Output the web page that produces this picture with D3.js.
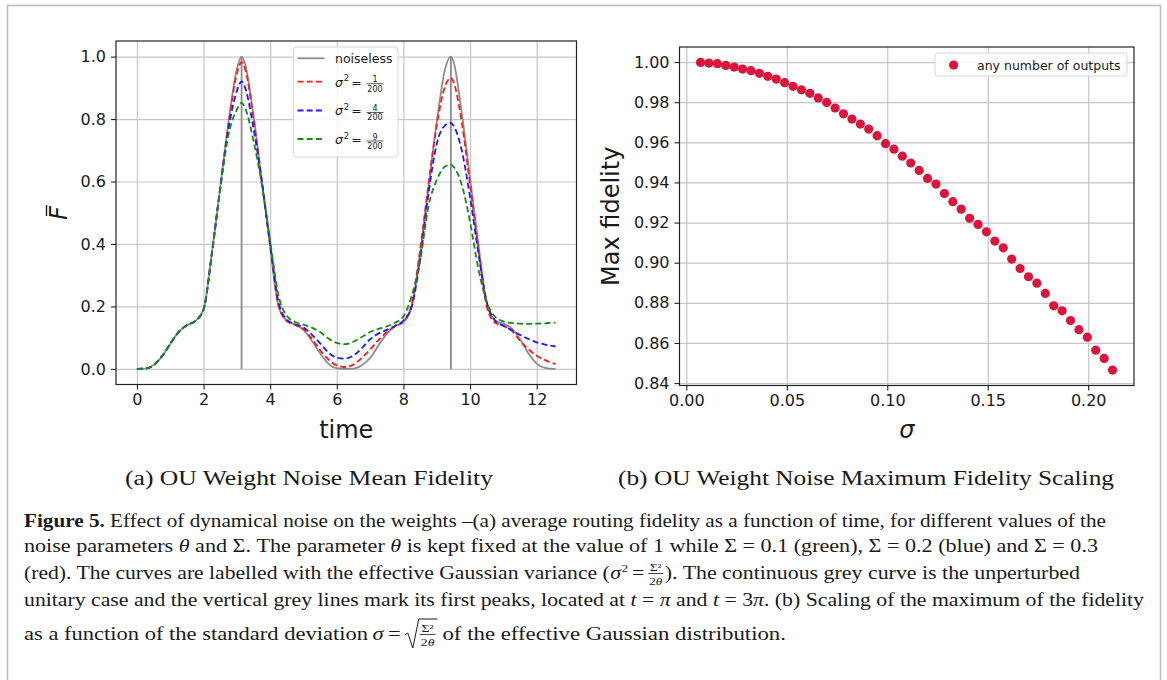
<!DOCTYPE html>
<html><head><meta charset="utf-8">
<script src="https://cdn.jsdelivr.net/npm/d3@7/dist/d3.min.js"></script>
<style>body{margin:0;background:#fff} svg{display:block}</style>
</head><body><svg id="c" width="1167" height="680"></svg>
<script>
// ---------- DATA ----------
const time = [0,0.25,0.5,0.75,1,1.25,1.5,1.75,2,2.25,2.5,2.75,3,3.1416,
  3.25,3.5,3.75,4,4.25,4.5,4.75,5,5.25,5.5,5.75,6,6.25,6.5,6.75,7,7.25,7.5,7.75,8,8.25,8.5,8.75,9,9.25,9.4248,
  9.5,9.75,10,10.25,10.5,10.75,11,11.25,11.5,11.75,12,12.25,12.5,12.5664];
const noiseless = [0,0.001,0.012,0.04,0.08,0.118,0.14,0.153,0.19,0.37,0.58,0.79,0.96,1.0,
  0.975,0.81,0.6,0.39,0.2,0.155,0.142,0.125,0.09,0.05,0.017,0.002,0,0.001,0.012,0.035,0.075,0.112,0.137,0.15,0.2,0.37,0.58,0.79,0.96,1.0,
  0.985,0.82,0.61,0.4,0.21,0.155,0.145,0.13,0.095,0.05,0.017,0.003,0,0];
const var1 = [0,0.001,0.012,0.04,0.08,0.118,0.14,0.153,0.19,0.37,0.58,0.785,0.945,0.982,
  0.96,0.80,0.6,0.395,0.205,0.153,0.141,0.127,0.097,0.06,0.03,0.011,0.006,0.014,0.035,0.062,0.092,0.118,0.136,0.152,0.21,0.38,0.59,0.78,0.905,0.932,
  0.92,0.79,0.59,0.385,0.2,0.148,0.138,0.123,0.09,0.063,0.042,0.028,0.018,0.016];
const var4 = [0,0.001,0.012,0.04,0.08,0.118,0.14,0.153,0.19,0.37,0.58,0.77,0.89,0.921,
  0.9,0.77,0.6,0.40,0.215,0.158,0.143,0.133,0.11,0.082,0.052,0.036,0.033,0.043,0.066,0.095,0.113,0.125,0.138,0.155,0.2,0.35,0.56,0.72,0.78,0.788,
  0.78,0.7,0.55,0.37,0.215,0.155,0.138,0.124,0.109,0.096,0.085,0.078,0.073,0.072];
const var9 = [0,0.001,0.012,0.04,0.08,0.118,0.14,0.153,0.19,0.37,0.575,0.75,0.83,0.852,
  0.835,0.73,0.59,0.41,0.235,0.17,0.15,0.142,0.132,0.118,0.097,0.083,0.079,0.087,0.102,0.118,0.128,0.136,0.148,0.168,0.235,0.345,0.52,0.605,0.648,0.654,
  0.648,0.59,0.47,0.32,0.215,0.167,0.152,0.147,0.145,0.144,0.145,0.146,0.148,0.148];
const peakTimes = [3.1416, 9.4248];
const timeTicks = [0,2,4,6,8,10,12];
const fTicks = [0,0.2,0.4,0.6,0.8,1.0];

const sigma = [0.00707,0.01126,0.01544,0.01963,0.02381,0.02800,0.03218,0.03637,0.04055,0.04474,
  0.04892,0.05311,0.05729,0.06148,0.06566,0.06985,0.07403,0.07822,0.08240,0.08659,
  0.09077,0.09496,0.09914,0.10333,0.10751,0.11170,0.11588,0.12007,0.12425,0.12844,
  0.13262,0.13681,0.14099,0.14518,0.14936,0.15355,0.15773,0.16192,0.16610,0.17029,
  0.17447,0.17866,0.18284,0.18703,0.19121,0.19540,0.19958,0.20377,0.20795,0.21213];
const maxFidelity = [0.9998,0.9995,0.9992,0.9983,0.9975,0.9965,0.9957,0.9944,0.9929,0.9915,
  0.9897,0.9879,0.9862,0.9844,0.9821,0.9799,0.9771,0.9742,0.9716,0.9691,
  0.9666,0.9633,0.9593,0.9566,0.9531,0.9497,0.9460,0.9420,0.9392,0.9345,
  0.9304,0.9267,0.9221,0.9191,0.9154,0.9108,0.9074,0.9018,0.8971,0.8930,
  0.8898,0.8847,0.8785,0.8760,0.8712,0.8666,0.8629,0.8564,0.8523,0.8465];
const sigmaTicks = [0,0.05,0.10,0.15,0.20];
const maxTicks = [0.84,0.86,0.88,0.90,0.92,0.94,0.96,0.98,1.00];

const seriesNames = ["noiseless","var1","var4","var9"];
const legendNums = [null,"1","4","9"];

// ---------- DRAW ----------
const svg = d3.select("#c");
const FONT = "DejaVu Sans";
const TXT = "#1a1a1a";

svg.append("rect").attr("x",7.5).attr("y",5.5).attr("width",1153).attr("height",720)
  .attr("fill","none").attr("stroke","#bdbdbd").attr("stroke-width",1.6);

// ===== Left panel =====
const L = {x0:116, x1:576.5, y0:41, y1:384.5};
const xL = d3.scaleLinear().domain([-0.628, 13.195]).range([L.x0, L.x1]);
const yL = d3.scaleLinear().domain([-0.05, 1.05]).range([L.y1, L.y0]);
const gL = svg.append("g");

gL.append("g").attr("transform",`translate(0,${L.y1})`)
  .call(d3.axisBottom(xL).tickValues(timeTicks).tickSize(-(L.y1-L.y0)).tickFormat(""))
  .call(g=>g.select(".domain").remove())
  .selectAll("line").attr("stroke","#c6c6c6").attr("stroke-width",1.2);
gL.append("g").attr("transform",`translate(${L.x0},0)`)
  .call(d3.axisLeft(yL).tickValues(fTicks).tickSize(-(L.x1-L.x0)).tickFormat(""))
  .call(g=>g.select(".domain").remove())
  .selectAll("line").attr("stroke","#c6c6c6").attr("stroke-width",1.2);

const axBL = gL.append("g").attr("transform",`translate(0,${L.y1})`)
  .call(d3.axisBottom(xL).tickValues(timeTicks).tickFormat(d3.format("d")).tickSize(5).tickPadding(4));
const axLL = gL.append("g").attr("transform",`translate(${L.x0},0)`)
  .call(d3.axisLeft(yL).tickValues(fTicks).tickFormat(d3.format(".1f")).tickSize(5).tickPadding(5));
[axBL, axLL].forEach(a=>{
  a.select(".domain").remove();
  a.selectAll("line").attr("stroke","#222").attr("stroke-width",1.1);
  a.selectAll("text").attr("font-family",FONT).attr("font-size",16).attr("fill",TXT);
});

const line = d3.line().x((d,i)=>xL(time[i])).y(d=>yL(d)).curve(d3.curveMonotoneX);
const styles = {
  noiseless:{data:noiseless,color:"#8c8c8c",dash:null},
  var1:{data:var1,color:"#ff1a1a",dash:"6,3.2"},
  var4:{data:var4,color:"#1a1aff",dash:"6,3.2"},
  var9:{data:var9,color:"#148c14",dash:"6,3.2"}
};
seriesNames.forEach(n=>{
  const s = styles[n];
  gL.append("path").attr("d",line(s.data)).attr("fill","none")
    .attr("stroke",s.color).attr("stroke-width",1.8)
    .attr("stroke-dasharray",s.dash);
  if(n==="noiseless"){
    gL.selectAll(".vl").data(peakTimes).join("line").attr("class","vl")
      .attr("x1",d=>xL(d)).attr("x2",d=>xL(d)).attr("y1",yL(0)).attr("y2",yL(1))
      .attr("stroke","#8c8c8c").attr("stroke-width",1.8);
  }
});

gL.append("rect").attr("x",L.x0).attr("y",L.y0).attr("width",L.x1-L.x0).attr("height",L.y1-L.y0)
  .attr("fill","none").attr("stroke","#222").attr("stroke-width",1.2);

// legend left
const lg = gL.append("g");
lg.append("rect").attr("x",293.5).attr("y",47).attr("width",104.5).attr("height",110).attr("rx",3)
  .attr("fill","#fff").attr("fill-opacity",0.85).attr("stroke","#d6d6d6").attr("stroke-width",1);
const rowY = [58.3, 81.7, 110.5, 139];
seriesNames.forEach((n,i)=>{
  const s = styles[n], c = rowY[i];
  lg.append("line").attr("x1",297.5).attr("x2",324.5).attr("y1",c).attr("y2",c)
    .attr("stroke",s.color).attr("stroke-width",1.8).attr("stroke-dasharray",s.dash);
  if(i===0){
    lg.append("text").attr("x",335).attr("y",c+4.5).attr("font-family",FONT).attr("font-size",12.5)
      .attr("fill",TXT).text("noiseless");
  } else {
    lg.append("text").attr("x",335).attr("y",c+4.8).attr("font-family",FONT).attr("font-size",12.5)
      .attr("font-style","italic").attr("fill",TXT).text("σ");
    lg.append("text").attr("x",343.8).attr("y",c-0.5).attr("font-family",FONT).attr("font-size",8.5)
      .attr("fill",TXT).text("2");
    lg.append("text").attr("x",356.5).attr("y",c+4.8).attr("font-family",FONT).attr("font-size",12.5)
      .attr("text-anchor","middle").attr("fill",TXT).text("=");
    lg.append("text").attr("x",375).attr("y",c+0.6).attr("font-family",FONT).attr("font-size",8)
      .attr("text-anchor","middle").attr("fill",TXT).text(legendNums[i]);
    lg.append("line").attr("x1",366.5).attr("x2",383.5).attr("y1",c+2).attr("y2",c+2)
      .attr("stroke",TXT).attr("stroke-width",0.7);
    lg.append("text").attr("x",375).attr("y",c+9.8).attr("font-family",FONT).attr("font-size",8)
      .attr("text-anchor","middle").attr("fill",TXT).text("200");
  }
});

// axis labels left
gL.append("text").attr("x",(L.x0+L.x1)/2).attr("y",438).attr("text-anchor","middle")
  .attr("font-family",FONT).attr("font-size",24).attr("fill",TXT).text("time");
const fl = gL.append("g").attr("transform","translate(67,213) rotate(-90)");
fl.append("text").attr("x",0).attr("y",0).attr("text-anchor","middle").attr("font-family",FONT)
  .attr("font-style","italic").attr("font-size",24).attr("fill",TXT).text("F");
fl.append("line").attr("x1",-3).attr("x2",8).attr("y1",-20.5).attr("y2",-20.5)
  .attr("stroke",TXT).attr("stroke-width",1.4);

// ===== Right panel =====
const R = {x0:679.5, x1:1134, y0:47, y1:385.5};
const xR = d3.scaleLinear().domain([-0.0034, 0.2228]).range([R.x0, R.x1]);
const yR = d3.scaleLinear().domain([0.8388, 1.0075]).range([R.y1, R.y0]);
const gR = svg.append("g");
gR.append("g").attr("transform",`translate(0,${R.y1})`)
  .call(d3.axisBottom(xR).tickValues(sigmaTicks).tickSize(-(R.y1-R.y0)).tickFormat(""))
  .call(g=>g.select(".domain").remove())
  .selectAll("line").attr("stroke","#c6c6c6").attr("stroke-width",1.2);
gR.append("g").attr("transform",`translate(${R.x0},0)`)
  .call(d3.axisLeft(yR).tickValues(maxTicks).tickSize(-(R.x1-R.x0)).tickFormat(""))
  .call(g=>g.select(".domain").remove())
  .selectAll("line").attr("stroke","#c6c6c6").attr("stroke-width",1.2);
const axBR = gR.append("g").attr("transform",`translate(0,${R.y1})`)
  .call(d3.axisBottom(xR).tickValues(sigmaTicks).tickFormat(d3.format(".2f")).tickSize(5).tickPadding(4));
const axLR = gR.append("g").attr("transform",`translate(${R.x0},0)`)
  .call(d3.axisLeft(yR).tickValues(maxTicks).tickFormat(d3.format(".2f")).tickSize(5).tickPadding(5));
[axBR, axLR].forEach(a=>{
  a.select(".domain").remove();
  a.selectAll("line").attr("stroke","#222").attr("stroke-width",1.1);
  a.selectAll("text").attr("font-family",FONT).attr("font-size",16).attr("fill",TXT);
});
gR.selectAll(".pt").data(maxFidelity).join("circle").attr("class","pt")
  .attr("cx",(d,i)=>xR(sigma[i])).attr("cy",d=>yR(d)).attr("r",4.6).attr("fill","#dc143c");
gR.append("rect").attr("x",R.x0).attr("y",R.y0).attr("width",R.x1-R.x0).attr("height",R.y1-R.y0)
  .attr("fill","none").attr("stroke","#222").attr("stroke-width",1.2);
const lr = gR.append("g");
lr.append("rect").attr("x",935).attr("y",53).attr("width",192).attr("height",23).attr("rx",3)
  .attr("fill","#fff").attr("fill-opacity",0.85).attr("stroke","#d6d6d6").attr("stroke-width",1);
lr.append("circle").attr("cx",953.6).attr("cy",65).attr("r",4.6).attr("fill","#dc143c");
lr.append("text").attr("x",977).attr("y",69.5).attr("font-family",FONT).attr("font-size",12.5)
  .attr("fill",TXT).text("any number of outputs");
gR.append("text").attr("x",(R.x0+R.x1)/2).attr("y",438).attr("text-anchor","middle")
  .attr("font-family",FONT).attr("font-style","italic").attr("font-size",24).attr("fill",TXT).text("σ");
gR.append("text").attr("transform",`translate(619,${(R.y0+R.y1)/2}) rotate(-90)`).attr("text-anchor","middle")
  .attr("font-family",FONT).attr("font-size",24).attr("fill",TXT).text("Max fidelity");

// ===== Sub-captions =====
const SERIF = "Liberation Serif";
svg.append("text").attr("x",125).attr("y",485).attr("font-family",SERIF).attr("font-size",20)
  .attr("fill",TXT).attr("textLength",368).attr("lengthAdjust","spacingAndGlyphs")
  .text("(a) OU Weight Noise Mean Fidelity");
svg.append("text").attr("x",618).attr("y",485).attr("font-family",SERIF).attr("font-size",20)
  .attr("fill",TXT).attr("textLength",496).attr("lengthAdjust","spacingAndGlyphs")
  .text("(b) OU Weight Noise Maximum Fidelity Scaling");

// ===== Caption =====
const CS = 18;
function capText(x,y){
  return svg.append("text").attr("x",x).attr("y",y).attr("font-family",SERIF)
    .attr("font-size",CS).attr("fill",TXT);
}
function small(x,y,anchor){
  return svg.append("text").attr("x",x).attr("y",y).attr("font-family",SERIF).attr("font-size",11)
    .attr("text-anchor",anchor||"start").attr("fill",TXT);
}
const W = sel => sel.node().getComputedTextLength();
function parts(t, arr){
  arr.forEach(p=>{
    const s = t.append("tspan").text(p[0]);
    if(p[1]==="b") s.attr("font-weight","bold");
    if(p[1]==="i") s.attr("font-style","italic");
  });
}
function fit(sel,len){ sel.attr("textLength",len).attr("lengthAdjust","spacingAndGlyphs"); return len; }
let t1 = capText(24,527);
parts(t1,[["Figure 5.","b"],[" Effect of dynamical noise on the weights –(a) average routing fidelity as a function of time, for different values of the"]]);
fit(t1,1082);
let t2 = capText(24,552);
parts(t2,[["noise parameters "],["θ","i"],[" and Σ. The parameter "],["θ","i"],[" is kept fixed at the value of 1 while Σ = 0.1 (green), Σ = 0.2 (blue) and Σ = 0.3"]]);
fit(t2,1074);
let t4 = capText(24,606);
parts(t4,[["unitary case and the vertical grey lines mark its first peaks, located at "],["t","i"],[" = "],["π","i"],[" and "],["t","i"],[" = 3"],["π","i"],[". (b) Scaling of the maximum of the fidelity"]]);
fit(t4,1120);

// fraction Σ²/2θ; returns width
function frac(x,y,k){
  const num = small(0,y-8,"middle").text("Σ²");
  const den = small(0,y+5.5,"middle");
  den.append("tspan").text("2"); den.append("tspan").attr("font-style","italic").text("θ");
  const fw = Math.max(W(num),W(den))*k + 2;
  fit(num,W(num)*k); fit(den,W(den)*k);
  num.attr("x",x+fw/2); den.attr("x",x+fw/2);
  svg.append("line").attr("x1",x).attr("x2",x+fw).attr("y1",y-5.5).attr("y2",y-5.5)
    .attr("stroke",TXT).attr("stroke-width",0.8);
  return fw;
}
// line 3: scale chosen so the line ends where the reference line ends
{
  const y = 579, xEnd = 1080;
  const a = capText(24,y).text("(red). The curves are labelled with the effective Gaussian variance (");
  const s = capText(0,y).attr("font-style","italic").text("σ");
  const sup = small(0,y-7).text("2");
  const eq = capText(0,y).text("=");
  const b = capText(0,y).text("). The continuous grey curve is the unperturbed");
  const nat = W(a)+W(s)+W(sup)+W(eq)+W(b);
  const fixed = 0.5+0.5+4+4+1.5+ (18+2);
  const k = (xEnd-24-fixed)/nat;
  let x = 24;
  x += fit(a,W(a)*k) + 0.5;
  s.attr("x",x); x += fit(s,W(s)*k) + 0.5;
  sup.attr("x",x); x += fit(sup,W(sup)*k) + 4;
  eq.attr("x",x); x += fit(eq,W(eq)*k) + 4;
  x += frac(x,y,k) + 1.5;
  b.attr("x",x); fit(b, Math.max(10, xEnd - x));
}
// line 5
{
  const y = 640, xEnd = 786;
  const a = capText(24,y).text("as a function of the standard deviation");
  const s = capText(0,y).attr("font-style","italic").text("σ");
  const eq = capText(0,y).text("=");
  const b = capText(0,y).text("of the effective Gaussian distribution.");
  const nat = W(a)+W(s)+W(eq)+W(b);
  const fixed = 4.5+4.5+4 + 17 + 20 + 5;
  const k = (xEnd-24-fixed)/nat;
  let x = 24;
  x += fit(a,W(a)*k) + 4.5;
  s.attr("x",x); x += fit(s,W(s)*k) + 4.5;
  eq.attr("x",x); x += fit(eq,W(eq)*k) + 4;
  const r0 = x;
  const fw = frac(r0+15, y, k);
  svg.append("path").attr("d",`M${r0},${y-5} L${r0+3},${y-7} L${r0+8},${y+8} L${r0+14},${y-21} L${r0+17+fw},${y-21}`)
    .attr("fill","none").attr("stroke",TXT).attr("stroke-width",1);
  x = r0 + 17 + fw + 5;
  b.attr("x",x); fit(b, Math.max(10, xEnd - x));
}
</script></body></html>
